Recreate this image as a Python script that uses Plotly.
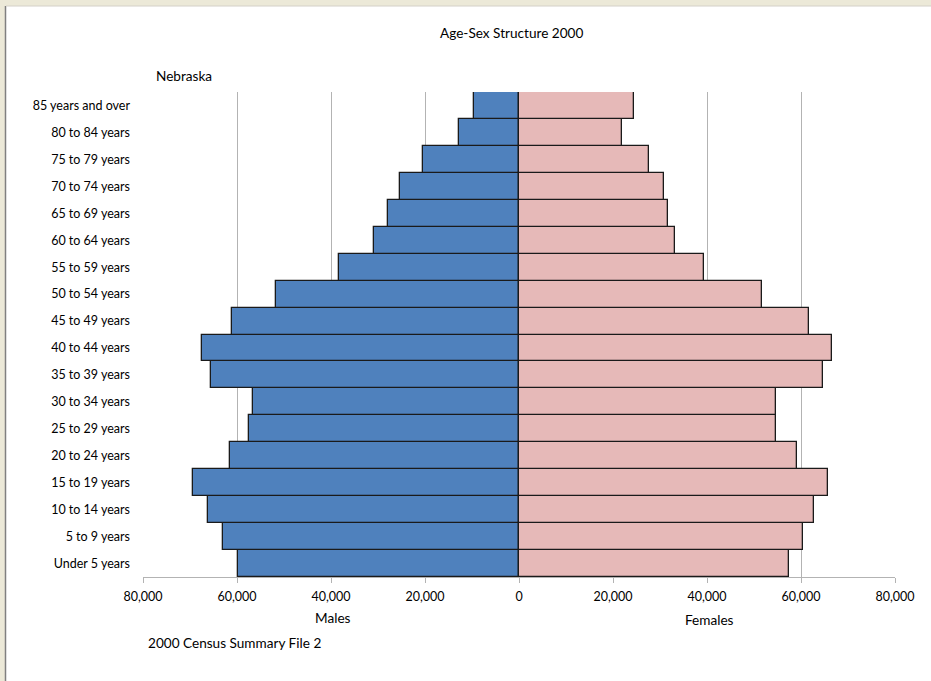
import plotly.graph_objects as go

# Nebraska, 2000 census, population by age group (bottom to top)
age_groups = ['Under 5 years', '5 to 9 years', '10 to 14 years', '15 to 19 years',
              '20 to 24 years', '25 to 29 years', '30 to 34 years', '35 to 39 years',
              '40 to 44 years', '45 to 49 years', '50 to 54 years', '55 to 59 years',
              '60 to 64 years', '65 to 69 years', '70 to 74 years', '75 to 79 years',
              '80 to 84 years', '85 years and over']
males = [59840, 63020, 66270, 69390, 61390, 57360, 56660, 65480, 67480,
         61110, 51690, 38320, 30770, 27800, 25380, 20370, 12730, 9600]
females = [57450, 60500, 62840, 65820, 59080, 54750, 54610, 64750, 66670,
           61770, 51640, 39360, 33190, 31630, 30920, 27730, 21910, 24400]
tick_vals = [-80000, -60000, -40000, -20000, 0, 20000, 40000, 60000, 80000]
tick_text = ['80,000', '60,000', '40,000', '20,000', '0', '20,000', '40,000', '60,000', '80,000']

W, H = 931, 681
L, R, T, B = 143, 36, 92, 104
FONT = 'Lato'


def px(x):
    return (x - L) / (W - L - R)


def py(y):
    return (H - B - y) / (H - T - B)


fig = go.Figure()
fig.add_trace(go.Bar(y=age_groups, x=[-v for v in males], orientation='h', name='Males',
                     marker=dict(color='#4F81BD', line=dict(color='#1a1a1a', width=1.3))))
fig.add_trace(go.Bar(y=age_groups, x=females, orientation='h', name='Females',
                     marker=dict(color='#E6B9B8', line=dict(color='#1a1a1a', width=1.3))))

fig.update_layout(
    width=W, height=H,
    margin=dict(l=L, r=R, t=T, b=B),
    barmode='relative', bargap=0,
    showlegend=False,
    paper_bgcolor='white', plot_bgcolor='white',
    font=dict(family=FONT, size=12.5, color='#000000'),
)
fig.update_xaxes(range=[-80000, 80000], tickvals=tick_vals, ticktext=tick_text,
                 showgrid=True, gridcolor='#B3B3B3', gridwidth=1, zeroline=False,
                 showline=True, linecolor='#B3B3B3', linewidth=1,
                 ticks='outside', ticklen=5, tickcolor='#B3B3B3', ticklabelstandoff=3)
fig.update_yaxes(categoryorder='array', categoryarray=age_groups, showgrid=False,
                 zeroline=False, showline=False, ticks='', ticklabelstandoff=12)

texts = [
    ('Age-Sex Structure 2000', 511, 33, 'center'),
    ('Nebraska', 154, 76, 'left'),
    ('Males', 333, 618, 'center'),
    ('Females', 709, 620, 'center'),
    ('2000 Census Summary File 2', 146, 643, 'left'),
]
for txt, x, y, anchor in texts:
    fig.add_annotation(text=txt, x=px(x), y=py(y), xref='paper', yref='paper',
                       xanchor=anchor, yanchor='middle', showarrow=False,
                       font=dict(family=FONT, size=13.6, color='#000000'))

# window frame: beige strip on top and left, gray edge
fig.add_shape(type='rect', xref='paper', yref='paper', x0=px(0), x1=px(W), y0=py(6), y1=py(0),
              fillcolor='#ECE9D8', line=dict(width=0), layer='below')
fig.add_shape(type='rect', xref='paper', yref='paper', x0=px(0), x1=px(5), y0=py(H), y1=py(0),
              fillcolor='#ECE9D8', line=dict(width=0), layer='below')
fig.add_shape(type='line', xref='paper', yref='paper', x0=px(5.5), x1=px(5.5), y0=py(H), y1=py(6),
              line=dict(color='#808080', width=1.5))
fig.add_shape(type='line', xref='paper', yref='paper', x0=px(6), x1=px(W), y0=py(6), y1=py(6),
              line=dict(color='#D4D0C8', width=1))

# page has a default 8px body margin, drop it so the figure sits at 0,0
fig.write_html("out.html", config={'displayModeBar': False},
               post_script="document.body.style.margin='0';")
